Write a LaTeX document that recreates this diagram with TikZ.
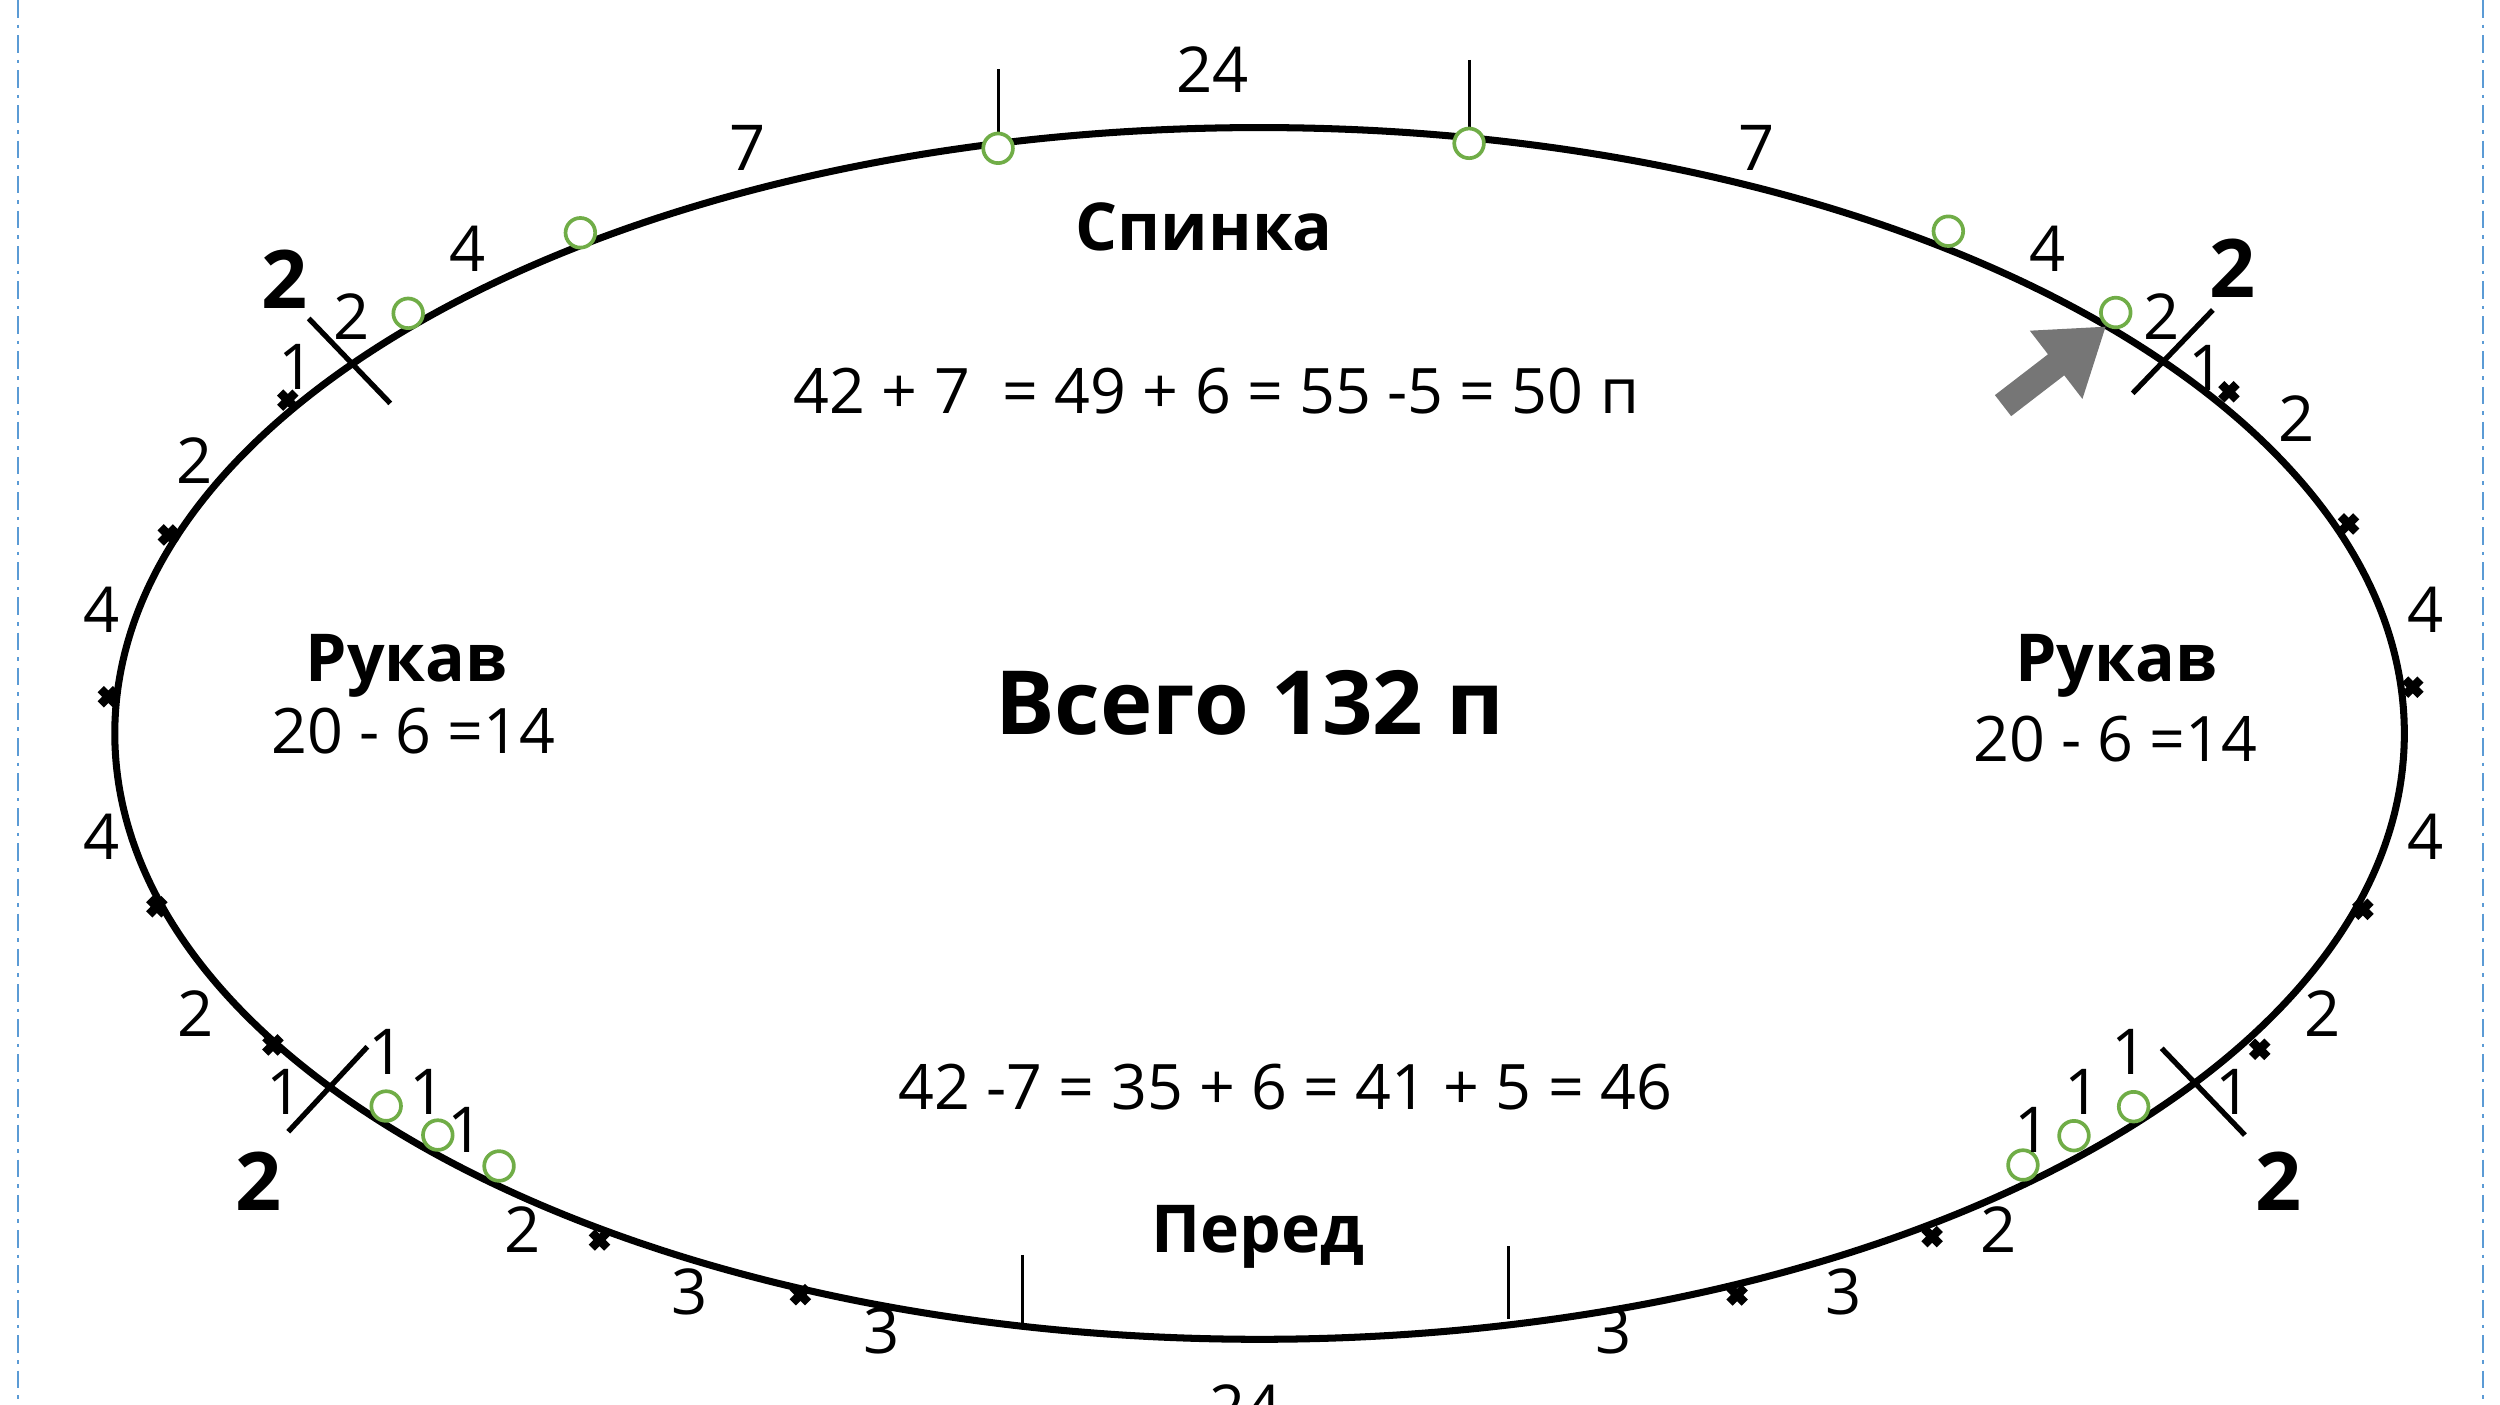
\documentclass[tikz,border=0pt]{standalone}
\usepackage{fontspec}
\setmainfont{Open Sans}
\definecolor{ringgreen}{HTML}{70AD47}
\definecolor{borderblue}{HTML}{5B9BD5}
\definecolor{arrowgrey}{HTML}{767676}
\begin{document}
\begin{tikzpicture}[x=0.015944cm,y=-0.015944cm,
  oval/.style={line width=2pt},
  tickline/.style={line width=0.85pt},
  cutline/.style={line width=1.5pt},
  ring/.style={draw=ringgreen,fill=white,line width=1.05pt},
  xmark/.style={line width=2.5pt},
  num/.style={inner sep=0pt,font=\fontsize{18}{20}\selectfont},
  bignum/.style={inner sep=0pt,font=\fontsize{23}{26}\selectfont\bfseries},
  part/.style={inner sep=0pt,font=\fontsize{18.8}{22}\selectfont\bfseries},
  total/.style={inner sep=0pt,font=\fontsize{25.2}{28}\selectfont\bfseries},
  calcline/.style={inner sep=0pt,font=\fontsize{17.85}{20}\selectfont},
  border/.style={draw=borderblue,line width=0.75pt,dash pattern=on 5pt off 2pt on 1pt off 2pt},
  pointer/.style={fill=arrowgrey,draw=none}]
\useasboundingbox (0,0) rectangle (1568,880.6);
\clip (0,0) rectangle (1568,880.6);

% page borders
\coordinate (bl1) at (11.2,0); \coordinate (bl2) at (11.2,880.6);
\coordinate (br1) at (1557.4,0); \coordinate (br2) at (1557.4,880.6);
\draw[border] (bl1) -- (bl2);
\draw[border] (br1) -- (br2);

% main oval
\draw[oval] (790,460) ellipse [x radius=718, y radius=380];

% ticks top and bottom
\coordinate (tt1) at (626,43.5); \coordinate (tt1e) at (626,93);
\coordinate (tt2) at (921.4,37.6); \coordinate (tt2e) at (921.4,89.9);
\coordinate (bt1) at (641,787); \coordinate (bt1e) at (641,830.5);
\coordinate (bt2) at (946.4,781.5); \coordinate (bt2e) at (946.4,827.5);
\draw[tickline] (tt1) -- (tt1e);
\draw[tickline] (tt2) -- (tt2e);
\draw[tickline] (bt1) -- (bt1e);
\draw[tickline] (bt2) -- (bt2e);

% cut lines
\coordinate (c1a) at (193.6,199.7); \coordinate (c1b) at (244.8,253);
\coordinate (c2a) at (1387.9,194.4); \coordinate (c2b) at (1337.6,246.7);
\coordinate (c3a) at (230.4,656.5); \coordinate (c3b) at (180.8,709.8);
\coordinate (c4a) at (1355.8,657.5); \coordinate (c4b) at (1408,711.9);
\draw[cutline] (c1a) -- (c1b);
\draw[cutline] (c2a) -- (c2b);
\draw[cutline] (c3a) -- (c3b);
\draw[cutline] (c4a) -- (c4b);

% black stitch marks on the oval
\foreach \p in {(180.5,251),(105.6,335.5),(68,437),(98.4,568.7),(171.2,655.4),(376,777.7),(502,812),
  (1398,245.7),(1473,328.6),(1513.3,431),(1482,570.3),(1417.3,658.1),(1211.8,775.6),(1089.5,812.2)}
  \draw[xmark,shift={\p}] (-4.8,-4.8) -- (4.8,4.8) (-4.8,4.8) -- (4.8,-4.8);

% green rings
\foreach \p in {(626,93),(921.4,89.9),(364,146),(1222,145),(256,196.5),(1327,196),
  (242.2,693.7),(274.6,711.9),(313,731.3),(1338.2,694.1),(1300.8,712.3),(1268.8,730.7)}
  \draw[ring] \p circle [radius=9.3];

% grey arrow
\draw[pointer] (1251.2,247.8) -- (1284.5,222.2) -- (1273.1,207.4) -- (1320.6,204.9)
  -- (1306.1,250.2) -- (1294.7,235.4) -- (1261.4,261.0) -- cycle;

% numbers
\node[num] (top24) at (760.6,43.4) {24};
\node[num] (sevL) at (469,93) {7};
\node[num] (sevR) at (1101.5,93) {7};
\node[num] (fourTL) at (293.5,156) {4};
\node[num] (fourTR) at (1284,156) {4};
\node[num] (twoTL) at (220.5,198.5) {2};
\node[num] (twoTR) at (1356,198.5) {2};
\node[num] (oneTL) at (186,230) {1};
\node[num] (oneTR) at (1384,230.5) {1};
\node[bignum] (bigTL) at (178.5,175) {2};
\node[bignum] (bigTR) at (1400,168) {2};
\node[num] (twoL1) at (122,289) {2};
\node[num] (twoR1) at (1440.5,262.5) {2};
\node[num] (fourL1) at (64,382.5) {4};
\node[num] (fourL2) at (64,525) {4};
\node[num] (fourR1) at (1521,382.5) {4};
\node[num] (fourR2) at (1521,525) {4};
\node[num] (twoL2) at (122.5,635.5) {2};
\node[num] (twoR2) at (1456.6,635.5) {2};
\node[num] (oneBLa) at (242.4,659.5) {1};
\node[num] (oneBLb) at (178.4,685) {1};
\node[num] (oneBLc) at (268,685) {1};
\node[num] (oneBLd) at (292,708.7) {1};
\node[bignum] (bigBL) at (162.4,741) {2};
\node[num] (twoBL) at (328,771) {2};
\node[num] (threeBL1) at (432.7,810) {3};
\node[num] (threeBL2) at (552.9,835) {3};
\node[num] (oneBRa) at (1335.7,659.5) {1};
\node[num] (oneBRb) at (1401,685) {1};
\node[num] (oneBRc) at (1306,685) {1};
\node[num] (oneBRd) at (1275,708.7) {1};
\node[bignum] (bigBR) at (1429,741) {2};
\node[num] (twoBR) at (1253.4,771) {2};
\node[num] (threeBR1) at (1156.2,810) {3};
\node[num] (threeBR2) at (1012,835) {3};
\node[num] (bot24) at (781,882.6) {24};

% labels inside
\node[part] (back) at (755.3,142.6) {Спинка};
\node[calcline] (eqback) at (762.9,245.3) {42 + 7 \ = 49 + 6 = 55 -5 = 50 п};
\node[part] (sleeveL) at (255,417.7) {Рукав};
\node[calcline] (eqsleeveL) at (259.2,458.3) {20 - 6 =14};
\node[part] (sleeveR) at (1327.3,417.7) {Рукав};
\node[calcline] (eqsleeveR) at (1326.7,463.6) {20 - 6 =14};
\node[total] (sum) at (783.8,441) {Всего 132 п};
\node[calcline] (eqfront) at (806.1,682.1) {42 -7 = 35 + 6 = 41 + 5 = 46};
\node[part] (front) at (789,776) {Перед};
\end{tikzpicture}
\end{document}
